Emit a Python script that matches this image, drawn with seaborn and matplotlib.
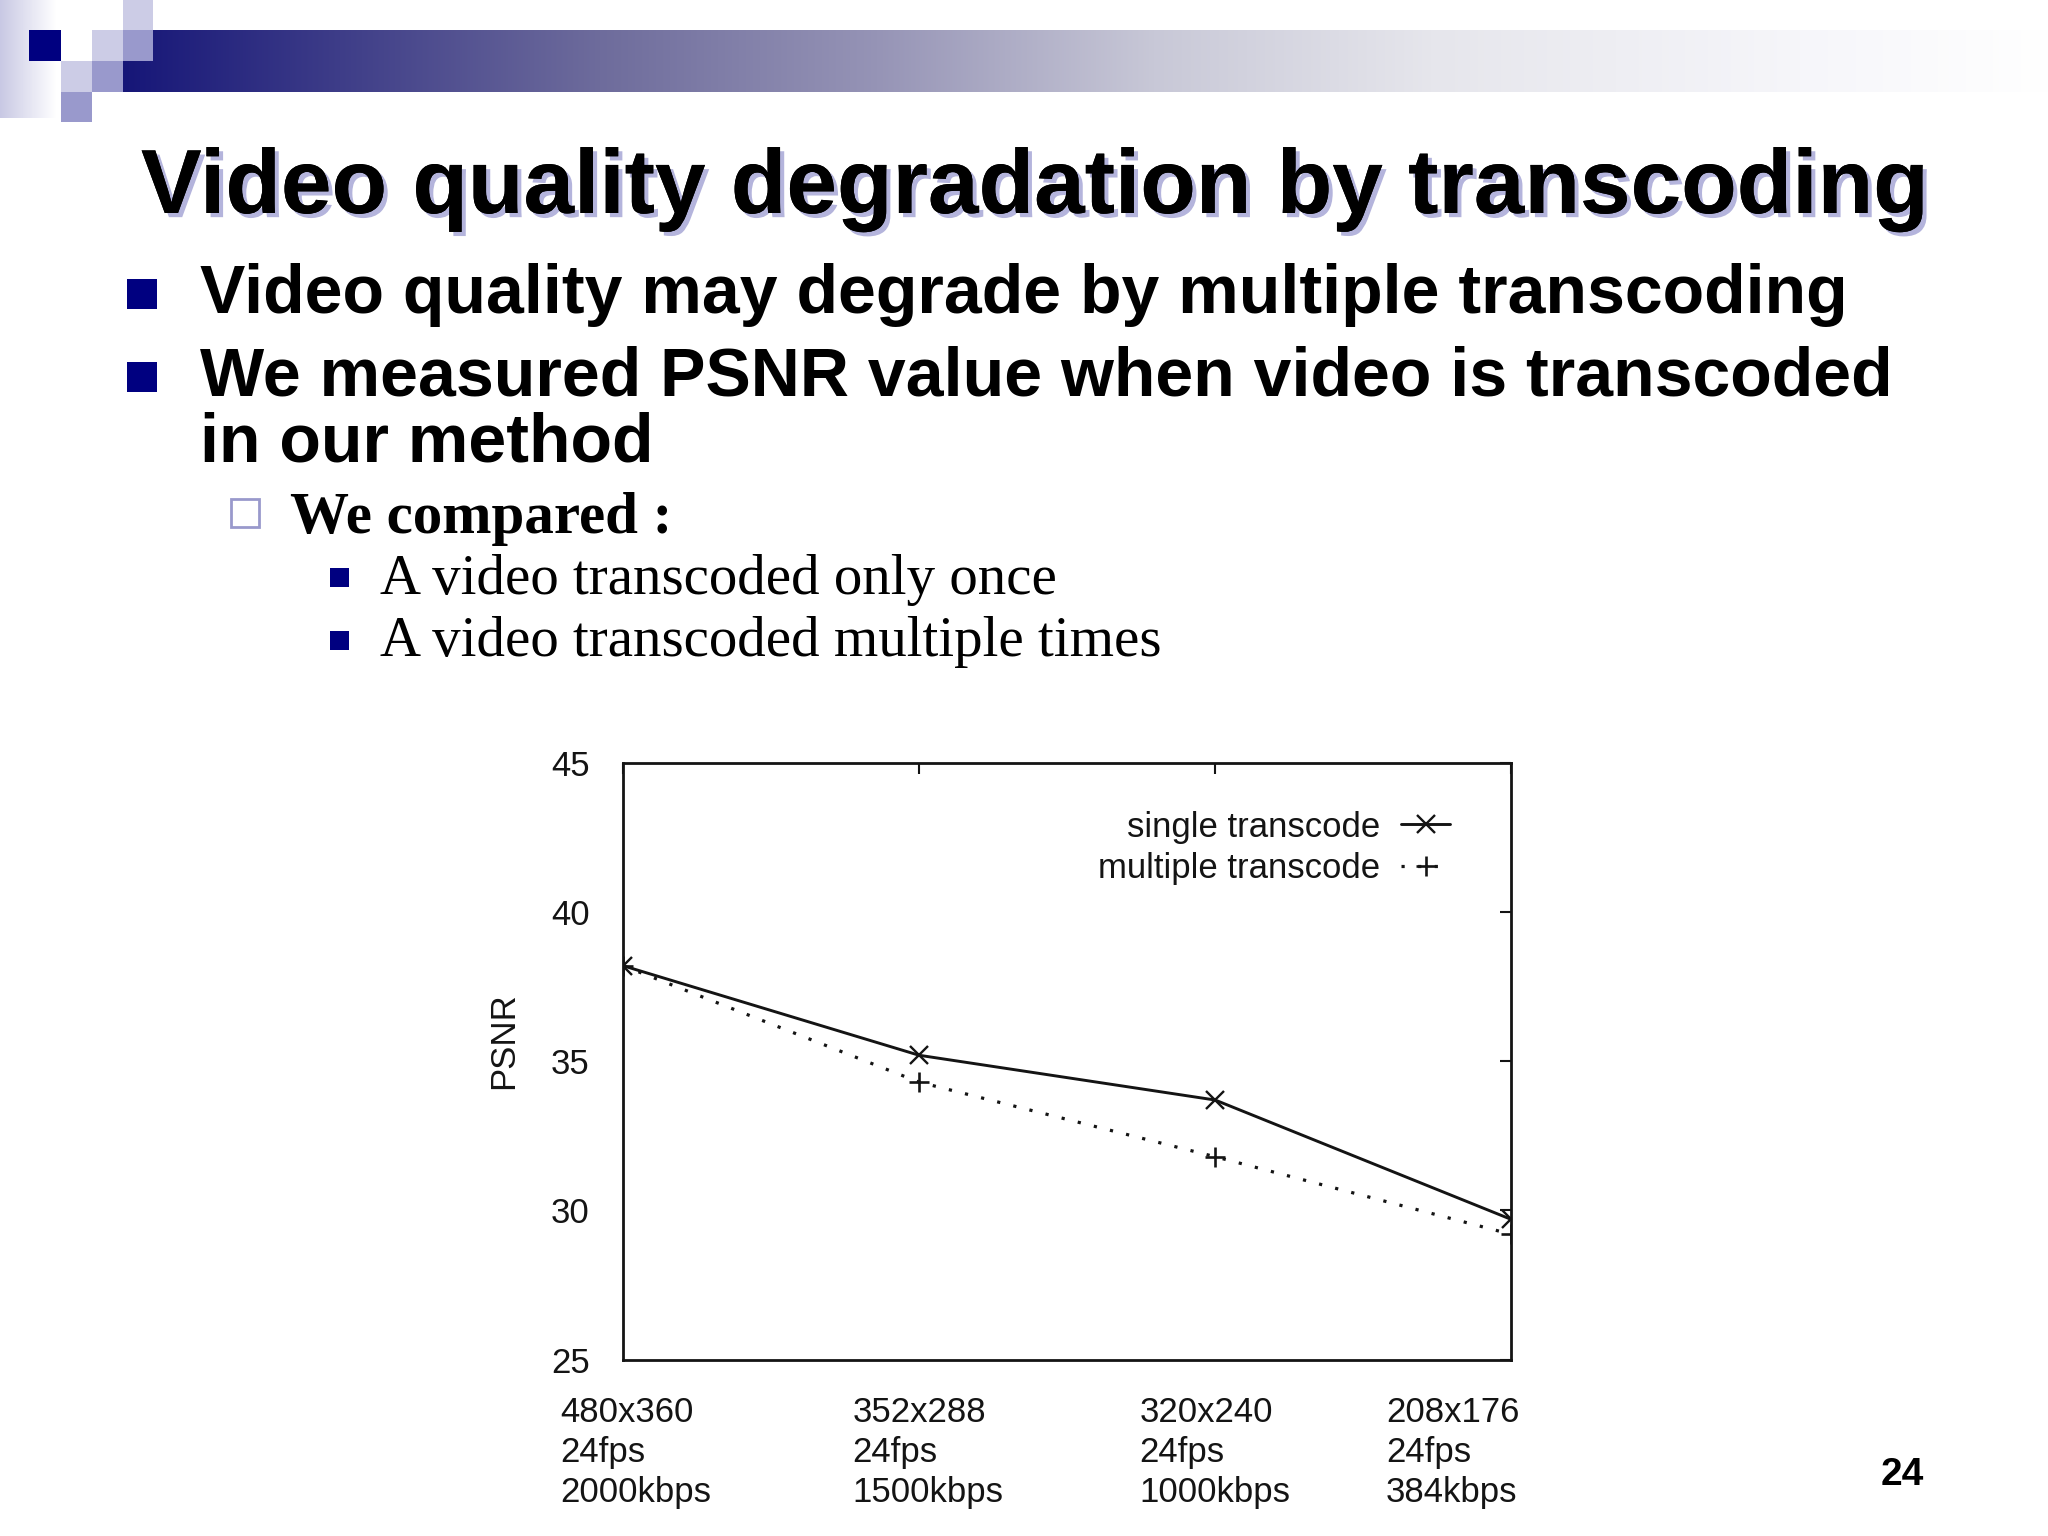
import numpy as np
import matplotlib.pyplot as plt
import matplotlib.patheffects as pe
import matplotlib.transforms as mtransforms
from matplotlib.patches import Rectangle
import seaborn as sns

# chart data
categories = ['480x360\n24fps\n2000kbps', '352x288\n24fps\n1500kbps',
              '320x240\n24fps\n1000kbps', '208x176\n24fps\n384kbps']
single_psnr = [38.2, 35.2, 33.7, 29.7]
multiple_psnr = [38.2, 34.3, 31.8, 29.2]
y_ticks = [25, 30, 35, 40, 45]

# slide text
title = 'Video quality degradation by transcoding'
bullet_lines = ['Video quality may degrade by multiple transcoding',
                'We measured PSNR value when video is transcoded',
                'in our method']
sub_bullet = 'We compared :'
sub_items = ['A video transcoded only once', 'A video transcoded multiple times']
page_no = '24'

W, H = 2048, 1536
NAVY = '#000080'
LIGHT = '#ccccE6'
MED = '#9999cc'

sns.set_theme(style='white')
plt.rcParams['font.family'] = ['Liberation Sans', 'DejaVu Sans']
plt.rcParams['text.color'] = 'black'

fig = plt.figure(figsize=(W / 100, H / 100), dpi=100)


def box(x0, y0, x1, y1):
    # pixel box (top-left origin) -> figure fraction [l, b, w, h]
    return [x0 / W, 1 - y1 / H, (x1 - x0) / W, (y1 - y0) / H]


def fx(x):
    return x / W


def fy(y):
    return 1 - y / H


# header gradient bar (navy fading to white)
bar = fig.add_axes(box(123, 30, W, 92))
xs = np.arange(123, W)
stops_x = [123, 600, 877, 1154, 1431, 1800, 2048]
stops_rgb = np.array([(22, 22, 120), (110, 108, 156), (150, 148, 182), (200, 200, 215),
                      (230, 230, 236), (246, 246, 250), (255, 255, 255)]) / 255
grad = np.stack([np.interp(xs, stops_x, stops_rgb[:, k]) for k in range(3)], axis=1)
bar.imshow(grad[None, :, :], aspect='auto', extent=[0, 1, 0, 1])
bar.axis('off')

# faded strip on the left
strip = fig.add_axes(box(0, 0, 56, 118))
t2 = np.linspace(0, 1, 64)
c0 = np.array([200, 200, 228]) / 255
sgrad = c0[None, :] * (1 - t2[:, None]) + t2[:, None]
strip.imshow(sgrad[None, :, :], aspect='auto', extent=[0, 1, 0, 1])
strip.axis('off')

squares = [(123, 0, 153, 30, LIGHT), (29, 30, 61, 61, NAVY), (92, 30, 123, 61, LIGHT),
           (123, 30, 153, 61, MED), (61, 61, 92, 92, LIGHT), (92, 61, 123, 92, MED),
           (61, 92, 92, 122, MED)]
for x0, y0, x1, y1, c in squares:
    l, b, w, h = box(x0, y0, x1, y1)
    fig.add_artist(Rectangle((l, b), w, h, transform=fig.transFigure, color=c, lw=0, zorder=5))

# title with soft shadow
fig.text(fx(141), fy(213), title, fontsize=65.5, fontweight='bold', color='black', va='baseline',
         path_effects=[pe.withSimplePatchShadow(offset=(3, -3), shadow_rgbFace='#b4b4dc', alpha=1),
                       pe.Normal()])

# first-level bullets
for by in [279, 362]:
    l, b, w, h = box(127, by, 157, by + 30)
    fig.add_artist(Rectangle((l, b), w, h, transform=fig.transFigure, color=NAVY, lw=0))
for txt, ty in zip(bullet_lines, [313, 396, 461]):
    fig.text(fx(200), fy(ty), txt, fontsize=49, fontweight='bold', va='baseline', color='black')

# second level
l, b, w, h = box(231, 499, 259, 527)
fig.add_artist(Rectangle((l, b), w, h, transform=fig.transFigure, facecolor='white',
                         edgecolor=MED, lw=2))
fig.text(fx(290), fy(533), sub_bullet, fontsize=42.5, fontweight='bold', va='baseline',
         color='black', family=['Liberation Serif', 'DejaVu Serif'])

for txt, by, ty in zip(sub_items, [568, 631], [594, 656]):
    l, b, w, h = box(330, by, 349, by + 19)
    fig.add_artist(Rectangle((l, b), w, h, transform=fig.transFigure, color=NAVY, lw=0))
    fig.text(fx(380), fy(ty), txt, fontsize=41, va='baseline', color='black',
             family=['Liberation Serif', 'DejaVu Serif'])

fig.text(fx(1881), fy(1485), page_no, fontsize=28, fontweight='bold', va='baseline', color='black')

# the PSNR chart
ax = fig.add_axes([0.3042, 0.1148, 0.4337, 0.3886])
xpos = list(range(len(categories)))
ink = '#141414'
sns.lineplot(x=xpos, y=single_psnr, ax=ax, color=ink, lw=2.1, marker='x', markersize=13,
             markeredgewidth=1.7, markeredgecolor=ink, label='single transcode')
sns.lineplot(x=xpos, y=multiple_psnr, ax=ax, color=ink, lw=2.3, linestyle=(0, (1, 4.2)),
             marker='+', markersize=15, markeredgewidth=1.9, markeredgecolor=ink,
             label='multiple transcode')

ax.set_xlim(0, len(categories) - 1)
ax.set_ylim(25, 45)
ax.set_yticks(y_ticks)
ax.set_xticks(xpos)
ax.set_xticklabels(categories, multialignment='left', linespacing=1.28)
ax.tick_params(direction='in', length=8, width=1.5, top=True, right=True,
               labelsize=25, labelcolor=ink, color=ink, pad=24)
ax.tick_params(axis='x', pad=26)
# nudge the category labels the way the original sits them
for lab, dx in zip(ax.get_xticklabels(), [13, 9, 0, 8]):
    lab.set_transform(lab.get_transform() + mtransforms.ScaledTranslation(dx / 100, 0, fig.dpi_scale_trans))
ax.get_xticklabels()[-1].set_ha('right')
for s in ax.spines.values():
    s.set_color(ink)
    s.set_linewidth(2)
ax.set_ylabel('PSNR', fontsize=25, color=ink)
ax.yaxis.set_label_coords(-0.116, 0.534)
ax.set_xlabel('')

ax.legend(loc='upper right', bbox_to_anchor=(0.931, 0.92), frameon=False, markerfirst=False,
          fontsize=25, handlelength=1.4, handletextpad=0.6, labelspacing=0.25,
          borderpad=0, borderaxespad=0, labelcolor=ink)

fig.savefig('out.png', dpi=100)
